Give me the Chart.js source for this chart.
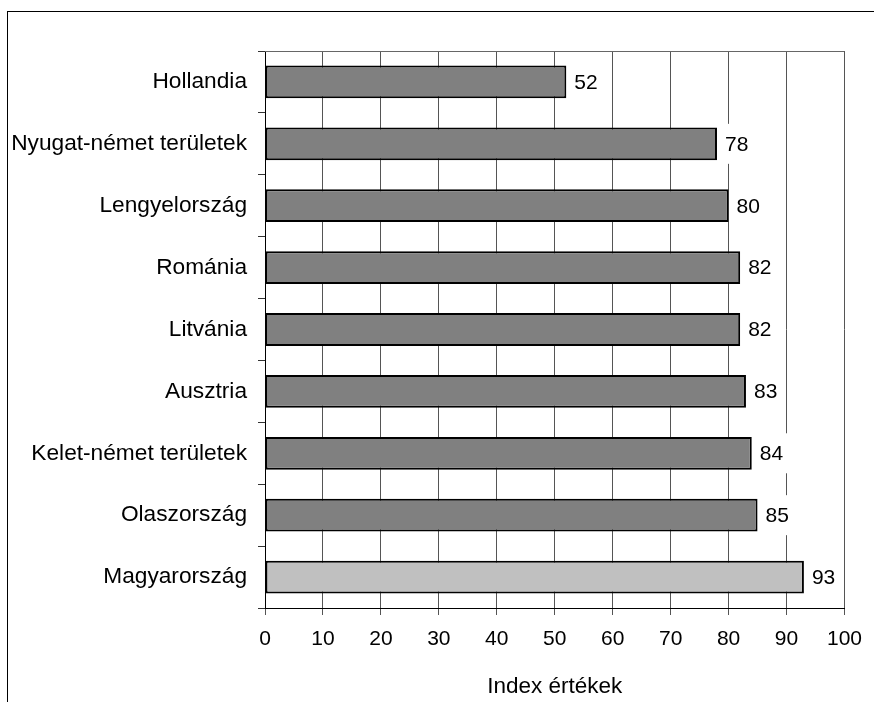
<!DOCTYPE html>
<html>
<head>
<meta charset="utf-8">
<script src="https://cdn.jsdelivr.net/npm/chart.js@4/dist/chart.umd.min.js"></script>
<style>
body { margin: 0; background: #fff; }
#wrap { position: relative; width: 874px; height: 702px; }
#frame { position: absolute; left: 7px; top: 11px; right: -5px; bottom: -5px;
	 border-top: 1px solid #000; border-left: 1px solid #000; pointer-events: none; }
</style>
</head>
<body>
<div id="wrap">
<canvas id="chart" width="874" height="702"></canvas>
<div id="frame"></div>
</div>
<script>
var countries = ["Hollandia", "Nyugat-német területek", "Lengyelország", "Románia",
		 "Litvánia", "Ausztria", "Kelet-német területek", "Olaszország", "Magyarország"];
var values = [52, 78, 80, 82, 82, 83, 84, 85, 93];
var x_ticks = [0, 10, 20, 30, 40, 50, 60, 70, 80, 90, 100];
var axis_title = "Index értékek";

var font_fam = "'Liberation Sans', Arial, sans-serif";

var fills = values.map(function(v, i) {
    return countries[i] == "Magyarország" ? "#c0c0c0" : "#808080";
});

// top border of the plot area
var frame_plugin = {
    id: 'plotFrame',
    afterDraw: function(chart) {
	var a = chart.chartArea;
	var ctx = chart.ctx;
	ctx.save();
	ctx.strokeStyle = '#666';
	ctx.lineWidth = 1;
	ctx.beginPath();
	ctx.moveTo(a.left, a.top + 0.5);
	ctx.lineTo(a.right, a.top + 0.5);
	ctx.stroke();
	ctx.restore();
    }
};

// value labels with white background at bar end
var label_plugin = {
    id: 'valueLabels',
    afterDatasetsDraw: function(chart) {
	var ctx = chart.ctx;
	var meta = chart.getDatasetMeta(0);
	ctx.save();
	ctx.font = "21px " + font_fam;
	ctx.textBaseline = 'middle';
	ctx.textAlign = 'left';
	meta.data.forEach(function(bar, i) {
	    var txt = String(values[i]);
	    var w = ctx.measureText(txt).width;
	    var x = bar.x + 8;
	    ctx.fillStyle = '#fff';
	    ctx.fillRect(x - 5, bar.y - 20, w + 10, 40);
	    ctx.fillStyle = '#000';
	    ctx.fillText(txt, x, bar.y + 1);
	});
	ctx.restore();
    }
};

new Chart(document.getElementById('chart'), {
    type: 'bar',
    data: {
	labels: countries,
	datasets: [{
	    data: values,
	    backgroundColor: fills,
	    borderColor: '#000',
	    borderWidth: 2,
	    borderSkipped: false,
	    categoryPercentage: 1,
	    barPercentage: 0.53
	}]
    },
    options: {
	indexAxis: 'y',
	responsive: false,
	animation: false,
	layout: { padding: { top: 51, right: 26, left: 0, bottom: 0 } },
	plugins: {
	    legend: { display: false },
	    tooltip: { enabled: false }
	},
	scales: {
	    x: {
		min: 0,
		max: 100,
		afterBuildTicks: function(scale) {
		    scale.ticks = x_ticks.map(function(v) { return { value: v }; });
		},
		afterFit: function(scale) { scale.height = 94; },
		grid: { color: '#555', lineWidth: 1, tickLength: 7 },
		border: { color: '#000', width: 1 },
		ticks: { color: '#000', font: { family: font_fam, size: 21 }, padding: 12, maxRotation: 0 },
		title: {
		    display: true,
		    text: axis_title,
		    color: '#000',
		    font: { family: font_fam, size: 22.5 },
		    padding: { top: 0, bottom: 2 }
		}
	    },
	    y: {
		afterFit: function(scale) { scale.width = 265; },
		grid: { offset: true, drawOnChartArea: false, color: '#333', tickLength: 7 },
		border: { color: '#000', width: 1 },
		ticks: { color: '#000', font: { family: font_fam, size: 22.7 }, padding: 11 }
	    }
	}
    },
    plugins: [frame_plugin, label_plugin]
});
</script>
</body>
</html>
